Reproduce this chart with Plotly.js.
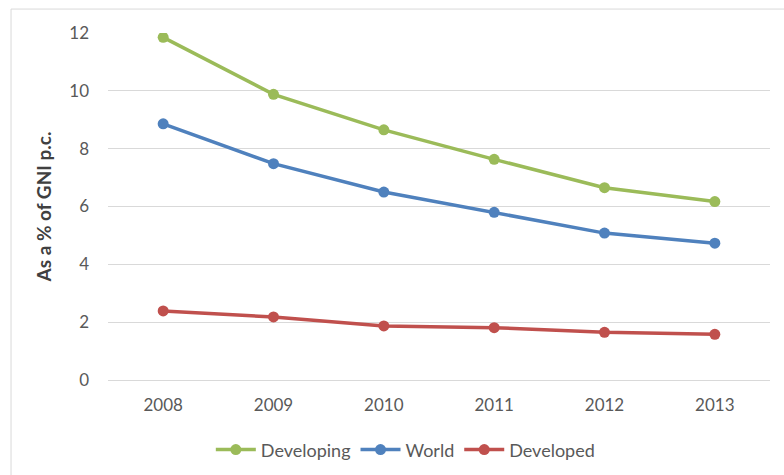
<!DOCTYPE html>
<html>
<head>
<meta charset="utf-8">
<script src="https://cdn.plot.ly/plotly-3.0.1.min.js"></script>
<style>
  html, body { margin: 0; padding: 0; background: #fff; }
  #chart { width: 784px; height: 475px; }
</style>
</head>
<body>
<div id="chart"></div>
<script>
const years = ['2008', '2009', '2010', '2011', '2012', '2013'];
const developing = [11.85, 9.88, 8.65, 7.63, 6.65, 6.17];
const world = [8.86, 7.48, 6.5, 5.8, 5.08, 4.73];
const developed = [2.39, 2.18, 1.87, 1.81, 1.65, 1.58];
const yTicks = [0, 2, 4, 6, 8, 10, 12];

function series(name, values, color) {
  return {
    type: 'scatter', mode: 'lines+markers', name: name,
    x: years, y: values,
    line: { color: color, width: 3.5 },
    marker: { color: color, size: 11 }
  };
}

const data = [
  series('Developing', developing, '#9BBB59'),
  series('World', world, '#4F81BD'),
  series('Developed', developed, '#C0504D')
];

const layout = {
  width: 784, height: 475,
  margin: { l: 108, r: 14, t: 33, b: 95, autoexpand: false },
  paper_bgcolor: '#ffffff', plot_bgcolor: '#ffffff',
  font: { family: 'Lato, "Open Sans", sans-serif', color: '#595959', size: 17 },
  showlegend: true,
  legend: {
    orientation: 'h', xref: 'container', x: 0.517, xanchor: 'center',
    yref: 'container', y: 0.053, yanchor: 'middle',
    font: { size: 18, color: '#595959' }, itemwidth: 40, tracegroupgap: 0
  },
  xaxis: {
    type: 'category', range: [-0.5, 5.5], automargin: false,
    showgrid: false, zeroline: false, showline: false,
    ticks: '', ticklabelstandoff: 13,
    tickfont: { size: 17, color: '#595959' }
  },
  yaxis: {
    range: [0, 12], tickvals: yTicks, ticktext: yTicks.map(String), automargin: false,
    showgrid: true, gridcolor: '#d9d9d9', gridwidth: 1,
    zeroline: true, zerolinecolor: '#d9d9d9', zerolinewidth: 1,
    showline: false, ticks: '', ticklabelstandoff: 18,
    tickfont: { size: 17, color: '#595959' },
    title: { text: 'As a % of GNI p.c.', standoff: 12,
             font: { size: 19, color: '#404040', family: 'Lato, "Open Sans", sans-serif', weight: 'bold' } }
  },
  shapes: [{
    type: 'rect', xref: 'paper', yref: 'paper', layer: 'below',
    x0: -0.1465, x1: 1.05, y0: -0.3, y1: 1.069,
    line: { color: '#d9d9d9', width: 1 }, fillcolor: 'rgba(0,0,0,0)'
  }]
};

Plotly.newPlot('chart', data, layout, { displayModeBar: false, staticPlot: true });
</script>
</body>
</html>
